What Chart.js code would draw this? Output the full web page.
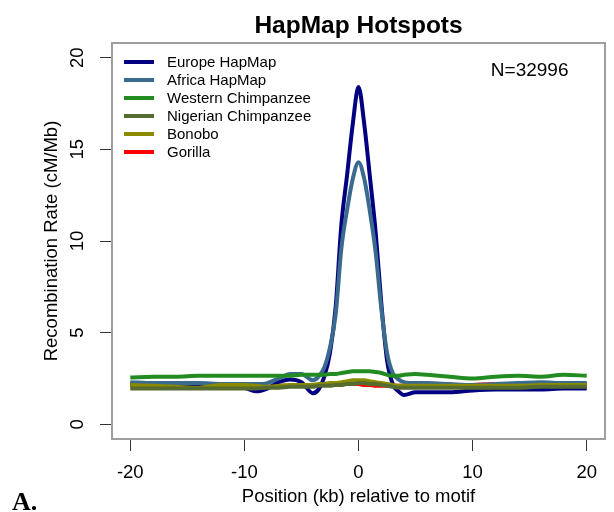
<!DOCTYPE html>
<html>
<head>
<meta charset="utf-8">
<title>HapMap Hotspots</title>
<script src="https://cdn.jsdelivr.net/npm/chart.js@4/dist/chart.umd.min.js"></script>
<style>
  body { margin: 0; background: #fff; }
  canvas { display: block; }
</style>
</head>
<body>
<canvas id="hotspots" width="614" height="512"></canvas>
<script>
// positions (kb) relative to motif
const positions = [-20, -18, -16, -14, -12, -10, -9, -8, -7, -6, -5, -4, -3.5, -3, -2.5, -2, -1.5, -1, -0.5, 0,
    0.5, 1, 1.5, 2, 2.5, 3, 3.5, 4, 5, 6, 8, 10, 12, 14, 16, 18, 20];

// recombination rate (cM/Mb)
const europeHapMap = [2.2, 2.15, 2.1, 2.05, 2.1, 2.0, 1.8, 1.95, 2.3, 2.45, 2.3, 1.7, 1.9, 2.6, 3.9, 6.4, 10.9, 13.6, 16.4, 18.4,
    16.4, 13.5, 10.5, 6.6, 3.5, 2.2, 1.8, 1.6, 1.75, 1.75, 1.75, 1.85, 1.9, 1.9, 1.9, 1.95, 1.95];
const africaHapMap = [2.3, 2.25, 2.25, 2.25, 2.2, 2.2, 2.2, 2.25, 2.5, 2.75, 2.75, 2.4, 2.6, 3.1, 4.2, 6.0, 9.6, 11.7, 13.4, 14.3,
    13.4, 11.6, 9.4, 6.3, 3.9, 2.8, 2.45, 2.3, 2.25, 2.25, 2.2, 2.15, 2.2, 2.25, 2.3, 2.25, 2.25];
const westernChimp = [2.55, 2.6, 2.6, 2.65, 2.65, 2.65, 2.65, 2.65, 2.65, 2.65, 2.7, 2.7, 2.7, 2.7, 2.75, 2.75, 2.8, 2.85, 2.9, 2.9,
    2.9, 2.9, 2.85, 2.8, 2.7, 2.65, 2.65, 2.7, 2.75, 2.7, 2.6, 2.5, 2.6, 2.65, 2.6, 2.7, 2.65];
const nigerianChimp = [1.95, 1.95, 1.95, 1.95, 1.95, 1.95, 1.95, 2.0, 2.0, 2.05, 2.05, 2.05, 2.1, 2.1, 2.1, 2.15, 2.15, 2.2, 2.2, 2.25,
    2.25, 2.2, 2.2, 2.15, 2.1, 2.05, 2.0, 2.0, 2.0, 2.0, 2.0, 2.0, 2.0, 2.0, 2.05, 2.05, 2.05];
const bonobo = [2.15, 2.1, 2.05, 2.0, 2.15, 2.15, 2.1, 2.05, 2.1, 2.15, 2.15, 2.15, 2.2, 2.2, 2.25, 2.25, 2.3, 2.35, 2.4, 2.4,
    2.4, 2.35, 2.3, 2.25, 2.2, 2.15, 2.1, 2.1, 2.1, 2.1, 2.1, 2.1, 2.1, 2.1, 2.15, 2.15, 2.15];
const gorilla = [2.1, 2.15, 2.15, 2.1, 2.1, 2.05, 2.05, 2.05, 2.1, 2.1, 2.1, 2.1, 2.1, 2.15, 2.15, 2.15, 2.2, 2.2, 2.2, 2.2,
    2.15, 2.15, 2.1, 2.1, 2.1, 2.1, 2.1, 2.1, 2.1, 2.1, 2.1, 2.15, 2.2, 2.2, 2.2, 2.2, 2.2];

const seriesNames = ["Europe HapMap", "Africa HapMap", "Western Chimpanzee", "Nigerian Chimpanzee", "Bonobo", "Gorilla"];
const seriesValues = [europeHapMap, africaHapMap, westernChimp, nigerianChimp, bonobo, gorilla];
const seriesColors = ["#000080", "#3b6a8f", "#228b22", "#556b2f", "#8b8b00", "#ff0000"];
// stacking of the lines: higher number sits lower (gorilla mostly hidden)
const drawOrder = [5, 4, 3, 1, 2, 6];

const xTicks = [-20, -10, 0, 10, 20];
const yTicks = [0, 5, 10, 15, 20];
const sampleSize = "N=32996";

const FONT = "'Liberation Sans', Arial, Helvetica, sans-serif";

let datasets = [];
for (let i = 0; i < seriesNames.length; i++) {
    datasets.push({
        label: seriesNames[i],
        data: positions.map((p, j) => ({x: p, y: seriesValues[i][j]})),
        borderColor: seriesColors[i],
        backgroundColor: seriesColors[i],
        borderWidth: 4,
        pointRadius: 0,
        cubicInterpolationMode: "monotone",
        order: drawOrder[i]
    });
}

// box, rotated y labels, legend, annotation
const extras = {
    id: "extras",
    afterDraw(chart) {
        const ctx = chart.ctx;
        const area = chart.chartArea;
        const xs = chart.scales.x, ys = chart.scales.y;
        ctx.save();

        ctx.strokeStyle = "#9e9e9e";
        ctx.lineWidth = 2;
        ctx.strokeRect(area.left, area.top, area.right - area.left, area.bottom - area.top);

        ctx.fillStyle = "#000";
        ctx.font = "18.5px " + FONT;
        ctx.textAlign = "center";
        ctx.textBaseline = "alphabetic";
        yTicks.forEach(v => {
            ctx.save();
            ctx.translate(83, ys.getPixelForValue(v));
            ctx.rotate(-Math.PI / 2);
            ctx.fillText(String(v), 0, 0);
            ctx.restore();
        });

        ctx.font = "15px " + FONT;
        ctx.textAlign = "left";
        ctx.textBaseline = "middle";
        chart.data.datasets.forEach((ds, i) => {
            let y = 62 + i * 18;
            ctx.strokeStyle = ds.borderColor;
            ctx.lineWidth = 4;
            ctx.beginPath();
            ctx.moveTo(124, y);
            ctx.lineTo(154, y);
            ctx.stroke();
            ctx.fillText(ds.label, 167, y + 1);
        });

        ctx.font = "19px " + FONT;
        ctx.textAlign = "center";
        ctx.fillText(sampleSize, xs.getPixelForValue(15), ys.getPixelForValue(19.3));

        ctx.font = "bold 26px 'Liberation Serif', 'Times New Roman', serif";
        ctx.textAlign = "left";
        ctx.textBaseline = "alphabetic";
        ctx.fillText("A.", 12, 510);
        ctx.restore();
    }
};

new Chart("hotspots", {
    type: "line",
    data: { datasets: datasets },
    plugins: [extras],
    options: {
        responsive: false,
        animation: false,
        devicePixelRatio: 1,
        layout: { padding: { left: 0, right: 9, top: 0, bottom: 0 } },
        plugins: {
            legend: { display: false },
            tooltip: { enabled: false },
            title: {
                display: true,
                text: "HapMap Hotspots",
                fullSize: false,
                color: "#000",
                font: { family: FONT, size: 24.5, weight: "bold" },
                padding: { top: 12, bottom: 1.6 }
            }
        },
        scales: {
            x: {
                type: "linear",
                min: -21.6,
                max: 21.6,
                afterBuildTicks: (scale) => { scale.ticks = xTicks.map(v => ({value: v})); },
                afterFit: (scale) => { scale.height = 73; },
                grid: { drawOnChartArea: false, drawTicks: true, tickLength: 12, tickColor: "#333" },
                border: { display: false },
                ticks: {
                    color: "#000",
                    font: { family: FONT, size: 18.5 },
                    padding: 11,
                    maxRotation: 0,
                    autoSkip: false
                },
                title: {
                    display: true,
                    text: "Position (kb) relative to motif",
                    color: "#000",
                    font: { family: FONT, size: 18.5 },
                    padding: { top: 0, bottom: 4 }
                }
            },
            y: {
                type: "linear",
                min: -0.8,
                max: 20.8,
                afterBuildTicks: (scale) => { scale.ticks = yTicks.map(v => ({value: v})); },
                afterFit: (scale) => { scale.width = 112; },
                grid: { drawOnChartArea: false, drawTicks: true, tickLength: 12, tickColor: "#333" },
                border: { display: false },
                ticks: { display: false },
                title: {
                    display: true,
                    text: "Recombination Rate (cM/Mb)",
                    color: "#000",
                    font: { family: FONT, size: 18.5 },
                    padding: { top: 41, bottom: 0 }
                }
            }
        }
    }
});
</script>
</body>
</html>
